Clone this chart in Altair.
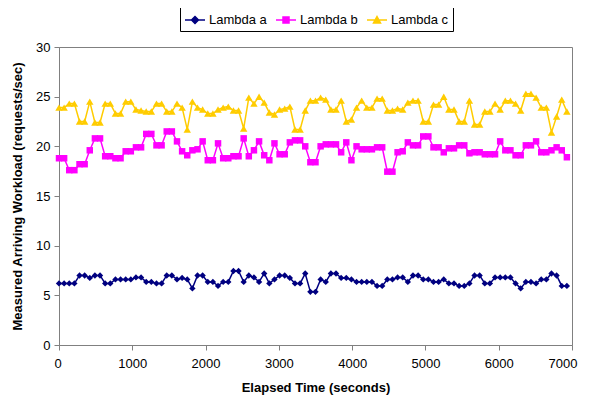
import altair as alt
import pandas as pd

names = ["Lambda a", "Lambda b", "Lambda c"]
colors = ["#000080", "#FF00FF", "#FFCC00"]

times = list(range(0, 7000, 70))

lambda_a = [6.2, 6.2, 6.2, 6.2, 7.0, 7.0, 6.75, 7.0, 7.0, 6.2,
            6.2, 6.6, 6.6, 6.6, 6.6, 6.8, 6.8, 6.35, 6.35, 6.2,
            6.2, 7.0, 7.0, 6.6, 6.75, 6.6, 5.7, 7.0, 7.0, 6.35,
            6.35, 5.95, 6.35, 6.35, 7.45, 7.45, 6.35, 7.0, 6.8, 6.35,
            7.2, 6.2, 6.6, 7.0, 7.0, 6.75, 6.2, 6.2, 7.2, 5.35,
            5.35, 6.6, 6.35, 7.2, 7.2, 6.75, 6.75, 6.6, 6.35, 6.35,
            6.35, 6.35, 5.95, 5.95, 6.6, 6.6, 6.8, 6.8, 6.35, 7.0,
            7.0, 6.6, 6.6, 6.35, 6.35, 6.6, 6.2, 6.2, 5.95, 5.95,
            6.2, 7.0, 7.0, 6.2, 6.2, 6.8, 6.8, 6.8, 6.8, 6.2,
            5.7, 6.35, 6.35, 6.2, 6.6, 6.6, 7.2, 7.0, 5.95, 5.95]

lambda_b = [18.8, 18.8, 17.6, 17.6, 18.2, 18.2, 19.6, 20.8, 20.8, 19.0,
            19.0, 18.8, 18.8, 19.5, 19.5, 19.9, 19.9, 21.25, 21.25, 20.1,
            20.1, 21.5, 21.5, 20.5, 19.5, 19.1, 19.6, 19.7, 20.5, 18.6,
            18.6, 20.3, 18.8, 18.8, 19.0, 19.0, 20.8, 19.0, 19.6, 20.5,
            19.1, 18.6, 20.3, 19.2, 19.2, 20.4, 20.6, 20.6, 20.0, 18.4,
            18.4, 20.0, 20.2, 20.2, 20.2, 19.4, 20.4, 18.6, 20.0, 19.7,
            19.7, 19.7, 19.9, 19.9, 17.45, 17.45, 19.4, 19.5, 20.4, 20.1,
            20.1, 21.0, 21.0, 19.9, 19.9, 19.4, 19.8, 19.8, 20.1, 20.1,
            19.3, 19.4, 19.4, 19.2, 19.2, 19.2, 20.5, 19.6, 19.6, 19.1,
            19.1, 20.1, 20.1, 20.5, 19.4, 19.4, 19.6, 19.9, 19.6, 18.9]

lambda_c = [23.9, 23.9, 24.3, 24.3, 22.5, 22.5, 24.5, 22.4, 22.4, 24.3,
            24.3, 23.3, 23.3, 24.5, 24.5, 23.7, 23.6, 23.5, 23.5, 24.3,
            24.3, 23.5, 23.5, 24.3, 23.9, 21.7, 24.5, 23.9, 23.7, 23.3,
            23.3, 23.7, 23.9, 24.0, 23.6, 23.6, 21.8, 24.9, 24.3, 25.0,
            24.4, 23.4, 23.2, 23.7, 23.8, 24.0, 21.7, 21.7, 23.6, 24.6,
            24.6, 24.9, 24.7, 23.7, 23.7, 24.6, 22.5, 22.7, 23.9, 24.6,
            23.9, 23.9, 24.8, 24.8, 23.6, 23.6, 23.8, 23.7, 24.4, 24.6,
            24.6, 22.5, 22.5, 24.2, 24.2, 25.0, 23.7, 23.7, 22.5, 22.5,
            24.6, 22.2, 22.2, 23.5, 23.5, 24.3, 23.7, 24.6, 24.6, 24.3,
            23.6, 25.3, 25.3, 24.9, 23.9, 23.9, 21.4, 23.0, 24.7, 23.5]

series_values = [lambda_a, lambda_b, lambda_c]
rows = []
for name, vals in zip(names, series_values):
    for t, v in zip(times, vals):
        rows.append({"t": t, "v": v, "series": name})
df = pd.DataFrame(rows)

FONT = "Liberation Sans"
AXIS_COLOR = "#808080"

x_enc = alt.X("t:Q", scale=alt.Scale(domain=[0, 7000], nice=False),
              axis=alt.Axis(values=[0, 1000, 2000, 3000, 4000, 5000, 6000, 7000],
                            format="d",
                            title="Elapsed Time (seconds)", grid=False,
                            labelFont=FONT, labelFontSize=13, labelColor="black",
                            titleFont=FONT, titleFontSize=13, titleFontWeight="bold",
                            titleColor="black", tickSize=5, tickColor=AXIS_COLOR,
                            domainColor=AXIS_COLOR, labelPadding=7, titlePadding=11,
                            labelFlush=True, labelFlushOffset=5, labelOverlap=False))
y_enc = alt.Y("v:Q", scale=alt.Scale(domain=[0, 30], nice=False),
              axis=alt.Axis(values=[0, 5, 10, 15, 20, 25, 30],
                            title="Measured Arriving Workload (requests/sec)", grid=False,
                            labelFont=FONT, labelFontSize=13, labelColor="black",
                            titleFont=FONT, titleFontSize=13, titleFontWeight="bold",
                            titleColor="black", tickSize=5, tickColor=AXIS_COLOR,
                            domainColor=AXIS_COLOR, labelPadding=4, titlePadding=11,
                            labelFlush=False, labelOverlap=False))

base = alt.Chart(df).encode(x=x_enc, y=y_enc)

shapes = ["diamond", "square", "triangle-up"]
sizes = [40, 42, 55]
layers = []
for name, col, shp, sz in zip(names, colors, shapes, sizes):
    sub = base.transform_filter(alt.datum.series == name)
    layers.append(sub.mark_line(color=col, strokeWidth=1.5))
    layers.append(sub.mark_point(color=col, filled=True, opacity=1, shape=shp, size=sz))

legend_paths = [
    "M-1,0L1,0M0,-0.35L0.35,0L0,0.35L-0.35,0Z",
    "M-1,0L1,0M-0.3,-0.3L0.3,-0.3L0.3,0.3L-0.3,0.3Z",
    "M-1,0L1,0M0,-0.35L0.35,0.3L-0.35,0.3Z",
]
leg = dict(orient="none", legendX=121, legendY=-42, direction="horizontal",
           title=None, strokeColor="black", padding=4, symbolSize=400,
           symbolStrokeWidth=1.5, symbolOpacity=1, labelFont=FONT, labelFontSize=13,
           labelColor="black", columnPadding=6, labelOffset=3, labelLimit=200,
           fillColor="white")
legend_layer = base.transform_filter(alt.datum.t < 0).mark_point(
    filled=True, opacity=1, strokeWidth=1.5).encode(
    color=alt.Color("series:N", scale=alt.Scale(domain=names, range=colors),
                    legend=alt.Legend(**leg)),
    stroke=alt.Stroke("series:N", scale=alt.Scale(domain=names, range=colors),
                      legend=alt.Legend(**leg)),
    shape=alt.Shape("series:N", scale=alt.Scale(domain=names, range=legend_paths),
                    legend=alt.Legend(**leg)),
)
layers.append(legend_layer)

chart = alt.layer(*layers).properties(
    width=513, height=298,
    autosize=alt.AutoSizeParams(type="none"),
    padding={"left": 51, "top": 39, "right": 10, "bottom": 50},
    background="white",
).configure_view(stroke=AXIS_COLOR, strokeWidth=1)

chart.save("out.html", embed_options={"renderer": "svg", "actions": False})
